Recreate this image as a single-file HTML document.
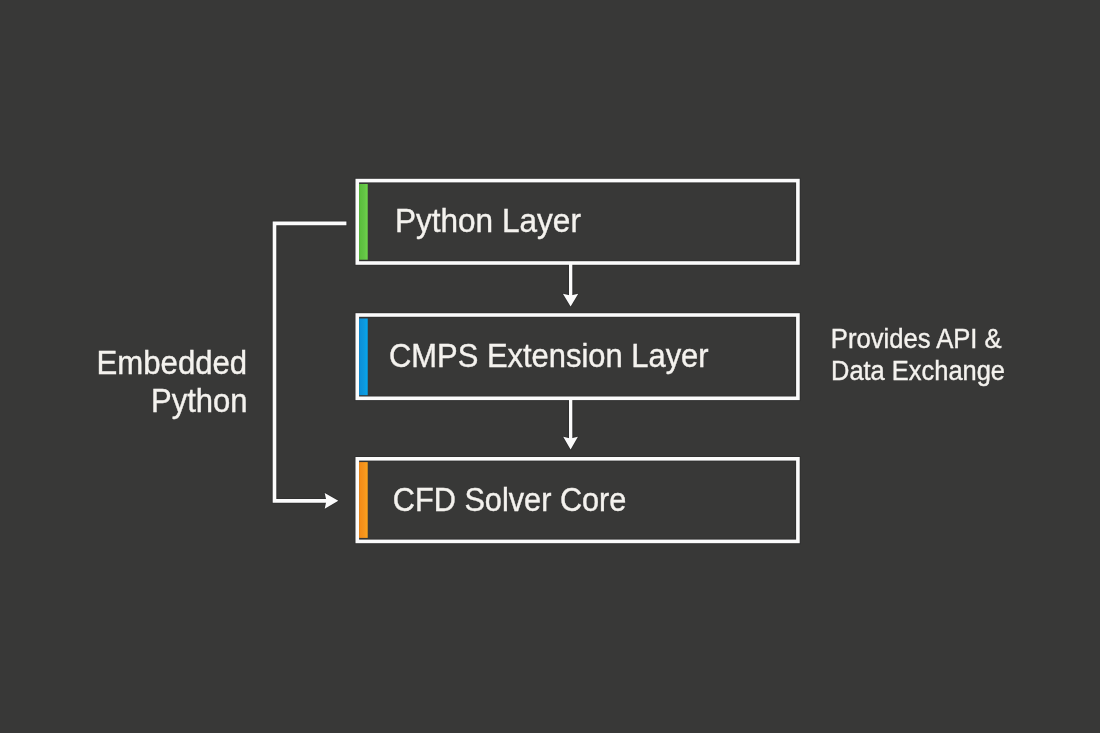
<!DOCTYPE html>
<html><head><meta charset="utf-8">
<style>
html,body{margin:0;padding:0;width:1100px;height:733px;overflow:hidden;background:#383837;}
svg{position:absolute;left:0;top:0;display:block;will-change:transform}
text{font-family:"Liberation Sans",sans-serif;fill:#f4f2ee;stroke:#f4f2ee;stroke-width:0.4px}
</style></head>
<body>
<svg width="1100" height="733" viewBox="0 0 1100 733">
  <rect x="0" y="0" width="1100" height="733" fill="#383837"/>
  <defs>
    <linearGradient id="gg" x1="0" y1="0" x2="1" y2="0"><stop offset="0" stop-color="#58bd3a"/><stop offset="0.6" stop-color="#64c446"/><stop offset="1" stop-color="#6ed64a"/></linearGradient>
    <linearGradient id="gb" x1="0" y1="0" x2="1" y2="0"><stop offset="0" stop-color="#0a8ed8"/><stop offset="0.6" stop-color="#0e99de"/><stop offset="1" stop-color="#02a8f2"/></linearGradient>
    <linearGradient id="go" x1="0" y1="0" x2="1" y2="0"><stop offset="0" stop-color="#f48a14"/><stop offset="0.6" stop-color="#f6951e"/><stop offset="1" stop-color="#fca41c"/></linearGradient>
  </defs>
  <!-- halos -->
  <g fill="none" stroke="#2c2c2c" stroke-width="5.6" opacity="0.6">
    <rect x="357.3" y="180.6" width="440.6" height="82.4"/>
    <rect x="357.3" y="315.0" width="440.6" height="83.3"/>
    <rect x="357.3" y="458.8" width="440.6" height="82.6"/>
    <polyline points="347.5,223.4 274.5,223.4 274.5,500.9 327,500.9"/>
    <line x1="570.65" y1="264" x2="570.65" y2="296"/>
    <line x1="570.65" y1="399" x2="570.65" y2="439"/>
  </g>
  <g fill="#2c2c2c" stroke="#2c2c2c" stroke-width="1.6" stroke-linejoin="round" opacity="0.6">
    <polygon points="562.9,293.8 570.6,295.4 578.2,293.8 570.6,306.4"/>
    <polygon points="563.2,436.8 570.6,438.4 577.9,436.8 570.6,449.6"/>
    <polygon points="324.7,492.9 338.3,500.8 324.7,508.7 326.4,500.8"/>
  </g>
  <!-- boxes -->
  <g fill="none" stroke="#fbfbfb" stroke-width="3.6">
    <rect x="357.3" y="180.6" width="440.6" height="82.4"/>
    <rect x="357.3" y="315.0" width="440.6" height="83.3"/>
    <rect x="357.3" y="458.8" width="440.6" height="82.6"/>
  </g>
  <!-- colour bars -->
  <rect x="359.1" y="184" width="8.6" height="75.7" fill="url(#gg)"/>
  <rect x="359.1" y="318.5" width="8.6" height="76.7" fill="url(#gb)"/>
  <rect x="359.1" y="462.1" width="8.6" height="75.8" fill="url(#go)"/>
  <!-- down arrows -->
  <g fill="#fbfbfb">
    <rect x="569" y="264" width="3.3" height="32"/>
    <polygon points="562.9,293.8 570.6,295.4 578.2,293.8 570.6,306.4"/>
    <rect x="569" y="399" width="3.3" height="40"/>
    <polygon points="563.2,436.8 570.6,438.4 577.9,436.8 570.6,449.6"/>
  </g>
  <!-- connector -->
  <g fill="none" stroke="#fbfbfb" stroke-width="3.6" stroke-linejoin="miter" stroke-linecap="butt">
    <polyline points="346.4,223.4 274.5,223.4 274.5,500.9 327,500.9"/>
  </g>
  <polygon fill="#fbfbfb" points="324.7,492.9 338.3,500.8 324.7,508.7 326.4,500.8"/>
  <!-- text -->
  <text x="394.9" y="232.3" font-size="33.2" textLength="186" lengthAdjust="spacingAndGlyphs">Python Layer</text>
  <text x="389" y="366.8" font-size="33.2" textLength="319.6" lengthAdjust="spacingAndGlyphs">CMPS Extension Layer</text>
  <text x="392.8" y="510.5" font-size="33.2" textLength="233.6" lengthAdjust="spacingAndGlyphs">CFD Solver Core</text>
  <text x="96.6" y="373.8" font-size="33.2" textLength="150.6" lengthAdjust="spacingAndGlyphs">Embedded</text>
  <text x="151" y="411.5" font-size="33.2" textLength="96.6" lengthAdjust="spacingAndGlyphs">Python</text>
  <text x="830.8" y="347.7" font-size="27" textLength="170.9" lengthAdjust="spacingAndGlyphs">Provides API &amp;</text>
  <text x="831" y="379.7" font-size="27" textLength="174" lengthAdjust="spacingAndGlyphs">Data Exchange</text>
</svg>
</body></html>
